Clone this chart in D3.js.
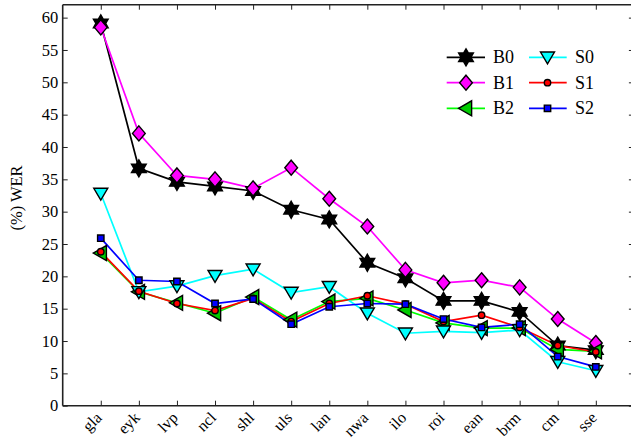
<!DOCTYPE html>
<html><head><meta charset="utf-8">
<script src="https://cdn.jsdelivr.net/npm/d3@7"></script>
<style>body{margin:0;background:#fff;}</style></head>
<body>
<svg id="c" width="631" height="440"></svg>
<script>
const categories = ["gla","eyk","lvp","ncl","shl","uls","lan","nwa","ilo","roi","ean","brm","cm","sse"];
const B0 = [59.1,36.7,34.6,33.9,33.2,30.3,28.8,22.1,19.7,16.2,16.2,14.5,9.3,8.6];
const B1 = [58.5,42.1,35.6,35.0,33.6,36.8,32.0,27.7,21.0,19.0,19.4,18.3,13.4,9.7];
const B2 = [23.6,17.6,15.9,14.3,16.8,13.3,16.1,16.6,14.8,12.8,12.0,12.0,8.7,8.4];
const S0 = [32.8,17.6,18.5,20.1,21.1,17.5,18.4,14.3,11.2,11.5,11.3,11.7,6.8,5.4];
const S1 = [23.8,17.7,15.8,14.7,16.6,13.0,15.8,17.0,15.7,13.0,14.0,12.1,9.3,8.3];
const S2 = [25.9,19.4,19.2,15.8,16.5,12.6,15.3,15.8,15.7,13.4,12.1,12.6,7.6,6.0];
const yTicks = [0,5,10,15,20,25,30,35,40,45,50,55,60];
const seriesNames = ["B0","B1","B2","S0","S1","S2"];

const FONT = "Liberation Serif";

const series = [
  {values:B0, color:"#000000", fill:"#000000", marker:"hex", size:8.5},
  {values:B1, color:"#ff00ff", fill:"#ff00ff", marker:"diamond", size:7.5},
  {values:B2, color:"#00ff00", fill:"#00cc00", marker:"left", size:7.5},
  {values:S0, color:"#00ffff", fill:"#00ffff", marker:"down", size:7},
  {values:S1, color:"#ff0000", fill:"#ff0000", marker:"circle", size:3.2},
  {values:S2, color:"#0000ff", fill:"#0000ff", marker:"square", size:3.2}
];

const L = 62.7, T = 4.7, B = 405.7;
const x = d3.scaleLinear().domain([0,15]).range([L, L + 15*38.08]);
const y = d3.scaleLinear().domain([0,62]).range([B, T]);
const R = x(15);

const svg = d3.select("#c");

function markerPath(type, s){
  if(type==="hex"){
    const pts=[];
    for(let i=0;i<12;i++){
      const a=-Math.PI/2 + i*Math.PI/6;
      const r = i%2===0 ? s : s/Math.sqrt(3);
      pts.push([r*Math.cos(a), r*Math.sin(a)]);
    }
    return "M"+pts.map(p=>p.join(",")).join("L")+"Z";
  }
  if(type==="diamond") return `M0,${-s}L${s*0.85},0L0,${s}L${-s*0.85},0Z`;
  if(type==="down") return `M${-s},${-s*0.75}L${s},${-s*0.75}L0,${s*0.95}Z`;
  if(type==="left") return `M${-s},0L${s*0.75},${-s}L${s*0.75},${s}Z`;
  if(type==="square") return `M${-s},${-s}L${s},${-s}L${s},${s}L${-s},${s}Z`;
  if(type==="circle") return d3.symbol(d3.symbolCircle, Math.PI*s*s)();
}

// frame
[[L,T,L,B],[L,B,R,B],[L,T,R,T],[R,T,R,B]].forEach(c=>{
  svg.append("line").attr("x1",c[0]).attr("y1",c[1]).attr("x2",c[2]).attr("y2",c[3])
   .attr("stroke","#222").attr("stroke-width",1.6);
});

// y axis (ticks inward), labels
const ya = svg.append("g").attr("transform",`translate(${L},0)`)
  .call(d3.axisLeft(y).tickValues(yTicks).tickSize(-5).tickPadding(4.5).tickFormat(d3.format("d")));
ya.attr("font-family",FONT).attr("font-size",16.5);
ya.select(".domain").remove();
ya.selectAll("line").attr("stroke","#222");
ya.selectAll("text").attr("fill","#000");
const yR = svg.append("g").attr("transform",`translate(${R},0)`)
  .call(d3.axisRight(y).tickValues(yTicks).tickSize(-5).tickFormat(""));
yR.select(".domain").remove();
yR.selectAll("line").attr("stroke","#222");

const xs = categories.map((c,i)=>i+1);
const xa = svg.append("g").attr("transform",`translate(0,${B})`)
  .call(d3.axisBottom(x).tickValues(xs).tickSize(-5).tickFormat(""));
xa.select(".domain").remove();
xa.selectAll("line").attr("stroke","#222");
const xt = svg.append("g").attr("transform",`translate(0,${T})`)
  .call(d3.axisTop(x).tickValues(xs).tickSize(-5).tickFormat(""));
xt.select(".domain").remove();
xt.selectAll("line").attr("stroke","#222");

// x labels rotated -45, right end near the tick
categories.forEach((c,i)=>{
  const t = svg.append("text")
    .attr("font-family",FONT).attr("font-size","16px")
    .text(c);
  const w = t.node().getComputedTextLength();
  const ex = x(i+1)+2, ey = B+13;
  const sx = ex - w*Math.SQRT1_2, sy = ey + w*Math.SQRT1_2;
  t.attr("transform",`translate(${sx},${sy}) rotate(-45)`);
});

// y label
svg.append("text")
  .attr("transform",`translate(22,198) rotate(-90)`)
  .attr("text-anchor","middle")
  .attr("font-family",FONT).attr("font-size","16.5px")
  .text("(%) WER");

// series
const line = d3.line().x((d,i)=>x(i+1)).y(d=>y(d));
series.forEach(s=>{
  svg.append("path").datum(s.values).attr("d",line)
    .attr("fill","none").attr("stroke",s.color).attr("stroke-width",1.7);
});
series.forEach(s=>{
  svg.append("g").selectAll("path").data(s.values).join("path")
    .attr("transform",(d,i)=>`translate(${x(i+1)},${y(d)})`)
    .attr("d",markerPath(s.marker,s.size))
    .attr("fill",s.fill).attr("stroke","#000").attr("stroke-width",1.4);
});

// legend
const legendPos = [
  {lx:446.7, rx:485, mx:466, tx:493, ty:57.3},
  {lx:446.7, rx:485, mx:466, tx:493, ty:82.7},
  {lx:446.7, rx:485, mx:466, tx:493, ty:108.3},
  {lx:529, rx:566.7, mx:547.5, tx:575, ty:57.3},
  {lx:529, rx:566.7, mx:547.5, tx:575, ty:82.7},
  {lx:529, rx:566.7, mx:547.5, tx:575, ty:108.3}
];
series.forEach((s,i)=>{
  const p = legendPos[i];
  svg.append("line").attr("x1",p.lx).attr("x2",p.rx).attr("y1",p.ty).attr("y2",p.ty)
    .attr("stroke",s.color).attr("stroke-width",1.7);
  svg.append("path").attr("transform",`translate(${p.mx},${p.ty})`)
    .attr("d",markerPath(s.marker,s.size))
    .attr("fill",s.fill).attr("stroke","#000").attr("stroke-width",1.4);
  svg.append("text").attr("x",p.tx).attr("y",p.ty+6)
    .attr("font-family",FONT).attr("font-size","18px").text(seriesNames[i]);
});
</script>
</body></html>
